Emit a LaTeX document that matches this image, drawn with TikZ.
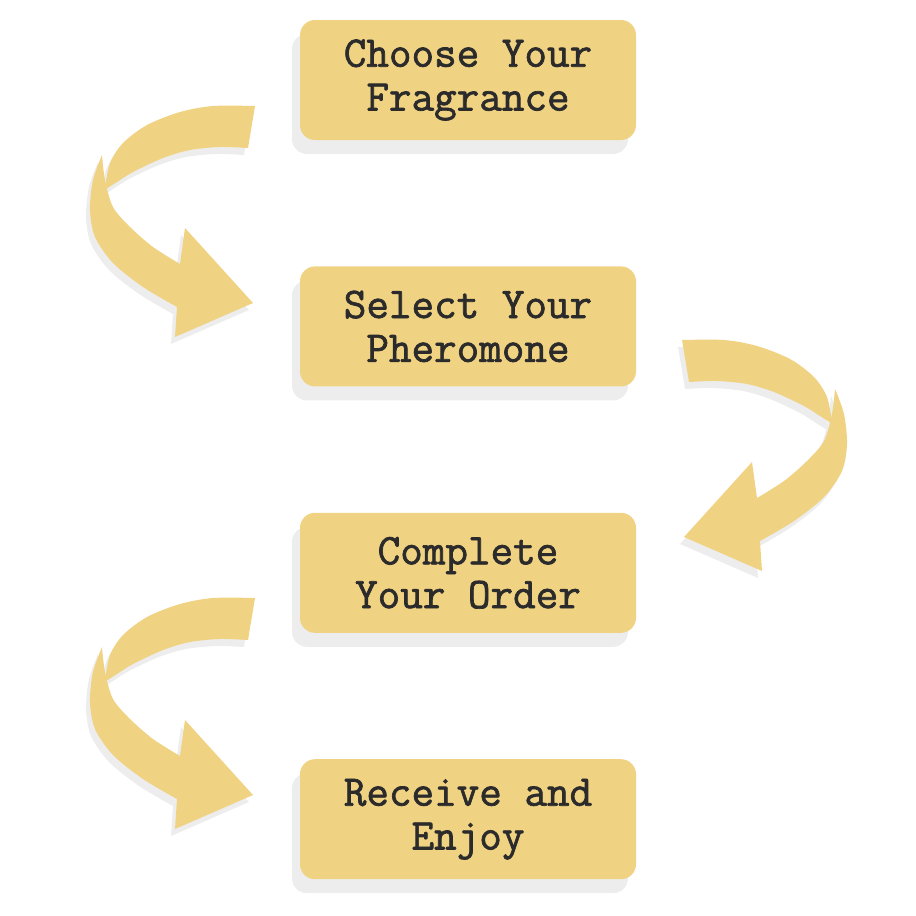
\documentclass[tikz,border=0pt]{standalone}
\usepackage{fontspec}
\newfontfamily\typewriter{Latin Modern Mono}[FakeBold=1.6]
\usepackage{tikz}
\usetikzlibrary{positioning, shadows}
\definecolor{stepgold}{HTML}{F0D283}
\definecolor{shadowgray}{HTML}{EDEDED}
\definecolor{inkgray}{HTML}{2B2B2B}

% curled ribbon arrow, drawn in pixel units
\newcommand{\ribbonarrow}{%
    % back of the ribbon
    \fill plot[smooth] coordinates {(255,106) (213,106) (180,112) (147,125) (123,143) (110,163) (105,188)}
        -- plot[smooth] coordinates {(106,189) (117,182) (133,172) (163,158) (190,150) (220,147) (248,148)} -- cycle;
    % front of the ribbon and head
    \fill plot[smooth] coordinates {(102,155) (93,180) (90,210) (95,237) (113,263) (143,287) (177,307)}
        -- (175,337) -- (253,303) -- (185,228)
        -- plot[smooth] coordinates {(180,264) (153,247) (130,227) (113,207) (105,180) (102,155)} -- cycle;
}

\begin{document}
\begin{tikzpicture}[x=1bp, y=-1bp,
    stepbox/.style={fill=stepgold, rounded corners=15bp, minimum width=336bp, minimum height=120bp,
        inner sep=0pt, align=center, text=inkgray, font=\typewriter\fontsize{44}{44}\selectfont,
        drop shadow={shadow xshift=-8bp, shadow yshift=-14bp, fill=shadowgray, opacity=1}}]
    \useasboundingbox (0,0) rectangle (916,916);

    % Arrow shadows
    \begin{scope}[shift={(-4,7)}, fill=shadowgray] \ribbonarrow \end{scope}
    \begin{scope}[shift={(933,241)}, xscale=-1, fill=shadowgray] \ribbonarrow \end{scope}
    \begin{scope}[shift={(-4,499)}, fill=shadowgray] \ribbonarrow \end{scope}

    % Arrows
    \begin{scope}[fill=stepgold] \ribbonarrow \end{scope}
    \begin{scope}[shift={(937,234)}, xscale=-1, fill=stepgold] \ribbonarrow \end{scope}
    \begin{scope}[shift={(0,492)}, fill=stepgold] \ribbonarrow \end{scope}

    % Steps
    \node[stepbox] (choose) at (468,80) {Choose Your\\Fragrance};
    \node[stepbox, below=126bp of choose] (select) {Select Your\\Pheromone};
    \node[stepbox, below=126bp of select] (complete) {Complete\\Your Order};
    \node[stepbox, below=126bp of complete] (receive) {Receive and\\Enjoy};
\end{tikzpicture}
\end{document}
